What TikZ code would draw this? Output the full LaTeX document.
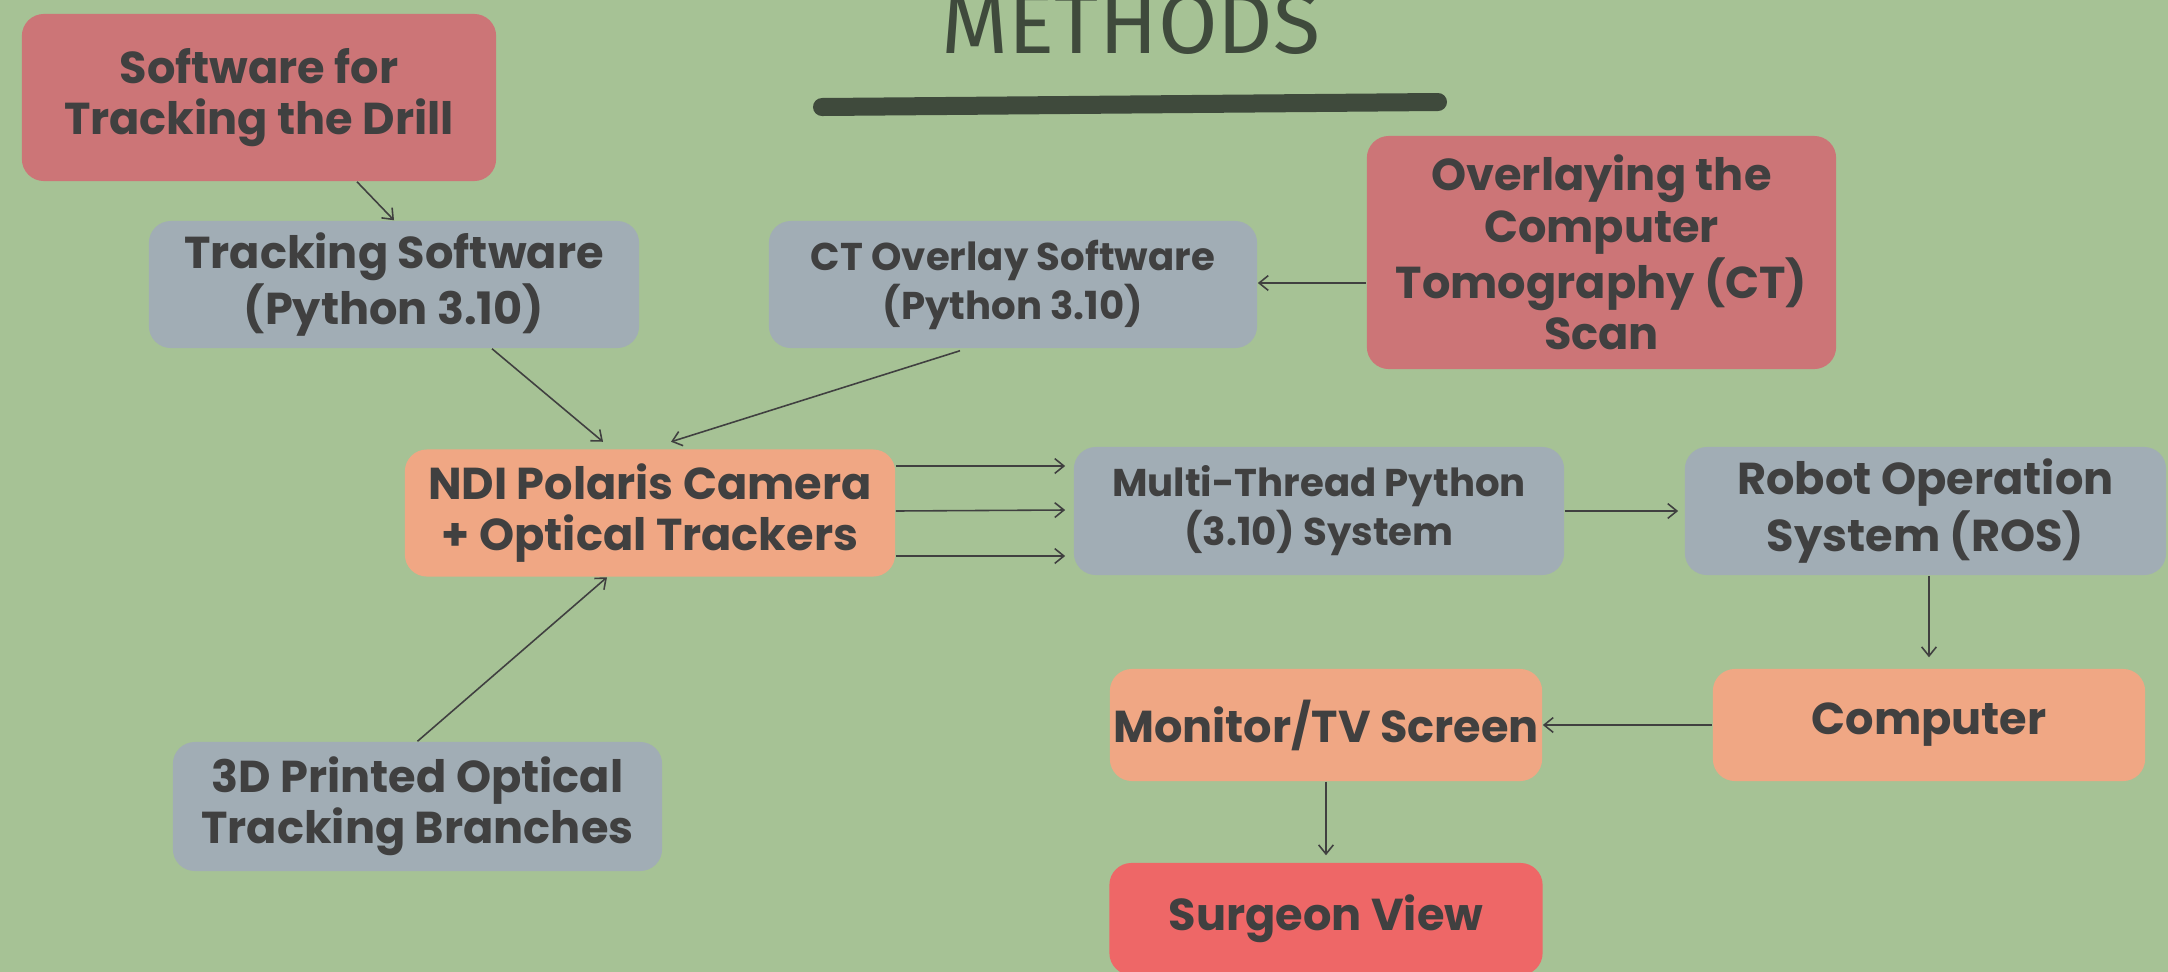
\documentclass[tikz,border=0pt]{standalone}
\usepackage{fontspec}
\setmainfont{Poppins}
\newfontfamily\titlefont{Fira Sans}
\usetikzlibrary{arrows.meta,calc}
\definecolor{bgc}{HTML}{A6C295}
\definecolor{pinkc}{HTML}{CC7577}
\definecolor{greyc}{HTML}{A1ADB5}
\definecolor{orangec}{HTML}{F0A784}
\definecolor{redc}{HTML}{EE6767}
\definecolor{txtc}{HTML}{404040}
\definecolor{titlec}{HTML}{3F4A3C}
\tikzset{
  box/.style={rectangle, rounded corners=0.22cm, inner sep=0pt, align=center,
    text=txtc, font=\bfseries\fontsize{12.7}{14.6}\selectfont},
  smallbox/.style={box, font=\bfseries\fontsize{11}{12.6}\selectfont},
  conn/.style={draw=txtc, line width=0.45pt, -{Straight Barb[length=2.6pt,width=4.2pt]}}
}
\begin{document}
\begin{tikzpicture}[x=0.01cm,y=-0.01cm]
\useasboundingbox (0,0) rectangle (2168,972);
\fill[bgc] (0,0) rectangle (2168,972);
% title
\node[anchor=base, text=titlec, font=\titlefont\fontsize{24.5}{28}\selectfont, inner sep=0pt] (title) at (1131,53) {METHODS};
\draw[titlec, line width=0.18cm, line cap=round] (822,107) -- (1438,102);
% nodes
\node[box, fill=pinkc, minimum width=4.74cm, minimum height=1.67cm] (drill) at (259,97.5) {Software for\\Tracking the Drill};
\node[box, fill=greyc, minimum width=4.90cm, minimum height=1.27cm] (track) at (394,284.5) {Tracking Software\\(Python 3.10)};
\node[smallbox, fill=greyc, minimum width=4.88cm, minimum height=1.27cm] (ctsw) at (1013,284.5) {CT Overlay Software\\(Python 3.10)};
\node[box, fill=pinkc, minimum width=4.69cm, minimum height=2.33cm] (overlay) at (1601.5,252.5) {Overlaying the\\Computer\\Tomography (CT)\\Scan};
\node[box, fill=orangec, minimum width=4.90cm, minimum height=1.27cm] (ndi) at (650,513) {NDI Polaris Camera\\+ Optical Trackers};
\node[smallbox, fill=greyc, minimum width=4.90cm, minimum height=1.28cm] (multi) at (1319,511) {Multi-Thread Python\\(3.10) System};
\node[box, fill=greyc, minimum width=4.81cm, minimum height=1.28cm] (ros) at (1925.5,511) {Robot Operation\\System (ROS)};
\node[box, fill=orangec, minimum width=4.32cm, minimum height=1.12cm] (monitor) at (1326,725) {Monitor/TV Screen};
\node[box, fill=orangec, minimum width=4.32cm, minimum height=1.12cm] (computer) at (1929,725) {Computer};
\node[box, fill=redc, minimum width=4.33cm, minimum height=1.12cm] (surgeon) at (1326,919) {Surgeon View};
\node[box, fill=greyc, minimum width=4.89cm, minimum height=1.29cm] (printed) at (417.5,806.5) {3D Printed Optical\\Tracking Branches};
% connectors
\draw[conn] ($(drill.south)+(98,0)$) -- (track.north);
\draw[conn] ($(track.south)+(98,0)$) -- ($(ndi.north)+(-47,-7)$);
\draw[conn] ($(ctsw.south)+(-53,2)$) -- ($(ndi.north)+(21,-7)$);
\draw[conn] ($(overlay.west)+(0,30.5)$) -- ($(ctsw.east)+(0,-1.5)$);
\draw[conn] ($(ndi.east)+(0,-47)$) -- ($(multi.west)+(-8,-45)$);
\draw[conn] ($(ndi.east)+(0,-2)$) -- ($(multi.west)+(-8,-1)$);
\draw[conn] ($(ndi.east)+(0,43)$) -- ($(multi.west)+(-8,45)$);
\draw[conn] (multi.east) -- ($(ros.west)+(-6,0)$);
\draw[conn] ($(ros.south)+(3.5,0)$) -- ($(computer.north)+(0,-11)$);
\draw[conn] (computer.west) -- (monitor.east);
\draw[conn] (monitor.south) -- ($(surgeon.north)+(0,-7)$);
\draw[conn] ($(printed.north)+(0,0)$) -- ($(ndi.south)+(-43,0)$);
\end{tikzpicture}
\end{document}
